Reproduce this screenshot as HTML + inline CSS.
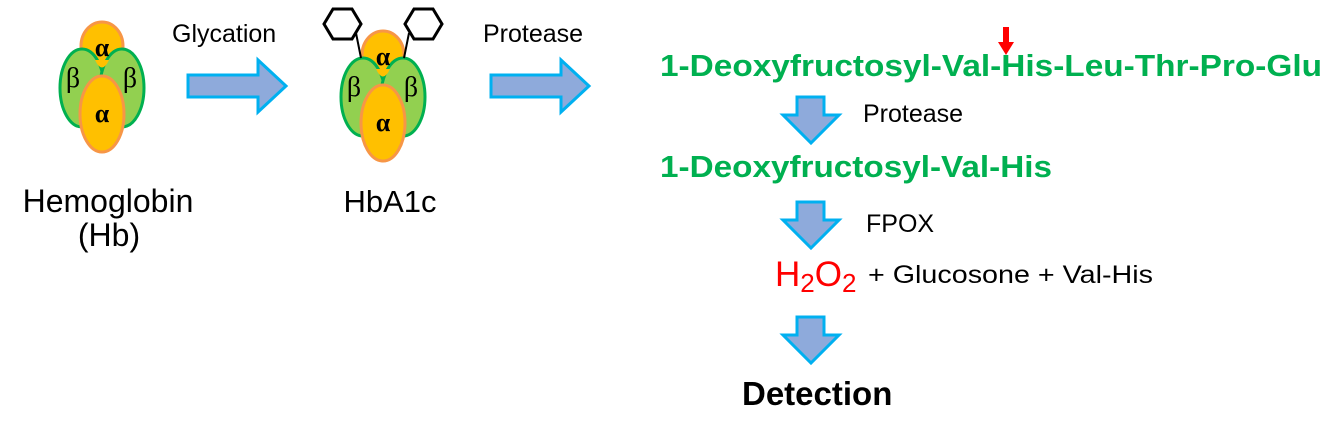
<!DOCTYPE html>
<html><head><style>
html,body{margin:0;padding:0;background:#fff;width:1340px;height:434px;overflow:hidden}
svg{display:block}
.s{font-family:"Liberation Sans",sans-serif}
.g{font-family:"Liberation Serif",serif}
</style></head><body>
<svg width="1340" height="434" viewBox="0 0 1340 434" xmlns="http://www.w3.org/2000/svg">
<defs>
<g id="mol">
 <ellipse cx="102" cy="46" rx="21" ry="24" fill="#ffc000" stroke="#f79646" stroke-width="3"/>
 <ellipse cx="82" cy="88" rx="22" ry="39" fill="#92d050" stroke="#00b050" stroke-width="3"/>
 <ellipse cx="122" cy="88" rx="22" ry="39" fill="#92d050" stroke="#00b050" stroke-width="3"/>
 <path d="M95,60 Q102,75 109,60" fill="#ffc000"/>
 <ellipse cx="102" cy="114" rx="22" ry="38" fill="#ffc000" stroke="#f79646" stroke-width="3"/>
 <text x="102" y="56" class="g" font-weight="bold" font-size="26" text-anchor="middle">α</text>
 <text x="73" y="87" class="g" font-size="28" text-anchor="middle">β</text>
 <text x="130" y="87" class="g" font-size="28" text-anchor="middle">β</text>
 <text x="102" y="122" class="g" font-weight="bold" font-size="26" text-anchor="middle">α</text>
</g>
<g id="rarr"><path d="M0,15 H70 V0 L98,26 L70,52 V37 H0 Z" fill="#8eaadb" stroke="#00b0f0" stroke-width="3"/></g>
<g id="darr"><path d="M10,0 H37 V18 H52 L24,46 L-4,18 H10 Z" fill="#8eaadb" stroke="#00b0f0" stroke-width="3"/></g>
</defs>
<use href="#mol" x="0" y="0"/>
<use href="#mol" x="281" y="9"/>
<polygon points="333,9 352,9 361,24 352,39 333,39 324,24" fill="none" stroke="#000" stroke-width="3"/>
<polygon points="414,9 433,9 442,24 433,39 414,39 405,24" fill="none" stroke="#000" stroke-width="3"/>
<line x1="356" y1="33" x2="361" y2="58" stroke="#000" stroke-width="2"/>
<line x1="409" y1="33" x2="404" y2="58" stroke="#000" stroke-width="2"/>
<use href="#rarr" x="188" y="60"/>
<use href="#rarr" x="491" y="60"/>
<text x="172" y="42" class="s" font-size="25">Glycation</text>
<text x="483" y="42" class="s" font-size="25">Protease</text>
<text x="108" y="212" class="s" font-size="32" text-anchor="middle">Hemoglobin</text>
<text x="109" y="246" class="s" font-size="32" text-anchor="middle">(Hb)</text>
<text x="390" y="212" class="s" font-size="31" text-anchor="middle">HbA1c</text>
<text x="660" y="76" class="s" font-size="31" font-weight="bold" fill="#00b050" textLength="662" lengthAdjust="spacingAndGlyphs">1-Deoxyfructosyl-Val-His-Leu-Thr-Pro-Glu</text>
<path d="M1003,27 H1009 V42 H1014 L1006,55 L998,42 H1003 Z" fill="#ff0000"/>
<use href="#darr" x="787" y="97"/>
<text x="863" y="122" class="s" font-size="25">Protease</text>
<text x="660" y="177" class="s" font-size="31" font-weight="bold" fill="#00b050" textLength="392" lengthAdjust="spacingAndGlyphs">1-Deoxyfructosyl-Val-His</text>
<use href="#darr" x="787" y="202"/>
<text x="866" y="232" class="s" font-size="25">FPOX</text>
<text x="775" y="286" class="s" font-size="35" fill="#ff0000">H<tspan font-size="26" dy="6">2</tspan><tspan dy="-6">O</tspan><tspan font-size="26" dy="6">2</tspan></text>
<text x="868" y="283" class="s" font-size="25" textLength="285" lengthAdjust="spacingAndGlyphs">+ Glucosone + Val-His</text>
<use href="#darr" x="787" y="317"/>
<text x="742" y="405" class="s" font-size="33" font-weight="bold">Detection</text>
</svg>
</body></html>
